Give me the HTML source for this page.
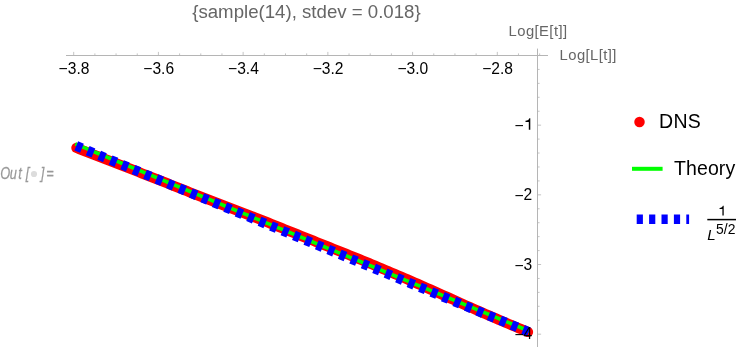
<!DOCTYPE html>
<html><head><meta charset="utf-8"><title>plot</title>
<style>
html,body{margin:0;padding:0;background:#fff;}
body{width:747px;height:349px;overflow:hidden;position:relative;font-family:"Liberation Sans",sans-serif;}
svg{position:absolute;left:0;top:0;will-change:transform;}
text{font-family:"Liberation Sans",sans-serif;}
.tk{font-size:15.6px;fill:#000;}
.al{font-size:14.8px;fill:#666;letter-spacing:0.42px;}
.ttl{font-size:18.65px;fill:#666;}
.lg{font-size:19.5px;fill:#000;}
.fr{font-size:13.3px;fill:#000;}
.out{font-size:16.4px;fill:#999;stroke:#999;stroke-width:0.25px;font-style:italic;}
</style></head><body>
<svg width="747" height="349" viewBox="0 0 747 349">
<rect width="747" height="349" fill="#fff"/>
<text x="192.2" y="17.6" class="ttl">{sample(14), stdev = 0.018}</text>
<text x="508.6" y="35.9" class="al">Log[E[t]]</text>
<text x="559.6" y="60.2" class="al">Log[L[t]]</text>
<line x1="66" y1="55.5" x2="548" y2="55.5" stroke="#b5b5b5" stroke-width="1"/>
<line x1="537.5" y1="48.6" x2="537.5" y2="347" stroke="#b5b5b5" stroke-width="1"/>
<line x1="73.70" y1="55.5" x2="73.70" y2="51.90" stroke="#b5b5b5" stroke-width="0.8"/>
<line x1="94.88" y1="55.5" x2="94.88" y2="53.40" stroke="#b5b5b5" stroke-width="0.8"/>
<line x1="116.06" y1="55.5" x2="116.06" y2="53.40" stroke="#b5b5b5" stroke-width="0.8"/>
<line x1="137.24" y1="55.5" x2="137.24" y2="53.40" stroke="#b5b5b5" stroke-width="0.8"/>
<line x1="158.42" y1="55.5" x2="158.42" y2="51.90" stroke="#b5b5b5" stroke-width="0.8"/>
<line x1="179.60" y1="55.5" x2="179.60" y2="53.40" stroke="#b5b5b5" stroke-width="0.8"/>
<line x1="200.78" y1="55.5" x2="200.78" y2="53.40" stroke="#b5b5b5" stroke-width="0.8"/>
<line x1="221.96" y1="55.5" x2="221.96" y2="53.40" stroke="#b5b5b5" stroke-width="0.8"/>
<line x1="243.14" y1="55.5" x2="243.14" y2="51.90" stroke="#b5b5b5" stroke-width="0.8"/>
<line x1="264.32" y1="55.5" x2="264.32" y2="53.40" stroke="#b5b5b5" stroke-width="0.8"/>
<line x1="285.50" y1="55.5" x2="285.50" y2="53.40" stroke="#b5b5b5" stroke-width="0.8"/>
<line x1="306.68" y1="55.5" x2="306.68" y2="53.40" stroke="#b5b5b5" stroke-width="0.8"/>
<line x1="327.86" y1="55.5" x2="327.86" y2="51.90" stroke="#b5b5b5" stroke-width="0.8"/>
<line x1="349.04" y1="55.5" x2="349.04" y2="53.40" stroke="#b5b5b5" stroke-width="0.8"/>
<line x1="370.22" y1="55.5" x2="370.22" y2="53.40" stroke="#b5b5b5" stroke-width="0.8"/>
<line x1="391.40" y1="55.5" x2="391.40" y2="53.40" stroke="#b5b5b5" stroke-width="0.8"/>
<line x1="412.58" y1="55.5" x2="412.58" y2="51.90" stroke="#b5b5b5" stroke-width="0.8"/>
<line x1="433.76" y1="55.5" x2="433.76" y2="53.40" stroke="#b5b5b5" stroke-width="0.8"/>
<line x1="454.94" y1="55.5" x2="454.94" y2="53.40" stroke="#b5b5b5" stroke-width="0.8"/>
<line x1="476.12" y1="55.5" x2="476.12" y2="53.40" stroke="#b5b5b5" stroke-width="0.8"/>
<line x1="497.30" y1="55.5" x2="497.30" y2="51.90" stroke="#b5b5b5" stroke-width="0.8"/>
<line x1="518.48" y1="55.5" x2="518.48" y2="53.40" stroke="#b5b5b5" stroke-width="0.8"/>
<line x1="539.66" y1="55.5" x2="539.66" y2="53.40" stroke="#b5b5b5" stroke-width="0.8"/>
<line x1="537.5" y1="69.43" x2="539.60" y2="69.43" stroke="#b5b5b5" stroke-width="0.8"/>
<line x1="537.5" y1="83.37" x2="539.60" y2="83.37" stroke="#b5b5b5" stroke-width="0.8"/>
<line x1="537.5" y1="97.30" x2="539.60" y2="97.30" stroke="#b5b5b5" stroke-width="0.8"/>
<line x1="537.5" y1="111.24" x2="539.60" y2="111.24" stroke="#b5b5b5" stroke-width="0.8"/>
<line x1="537.5" y1="125.17" x2="541.10" y2="125.17" stroke="#b5b5b5" stroke-width="0.8"/>
<line x1="537.5" y1="139.10" x2="539.60" y2="139.10" stroke="#b5b5b5" stroke-width="0.8"/>
<line x1="537.5" y1="153.04" x2="539.60" y2="153.04" stroke="#b5b5b5" stroke-width="0.8"/>
<line x1="537.5" y1="166.97" x2="539.60" y2="166.97" stroke="#b5b5b5" stroke-width="0.8"/>
<line x1="537.5" y1="180.91" x2="539.60" y2="180.91" stroke="#b5b5b5" stroke-width="0.8"/>
<line x1="537.5" y1="194.84" x2="541.10" y2="194.84" stroke="#b5b5b5" stroke-width="0.8"/>
<line x1="537.5" y1="208.77" x2="539.60" y2="208.77" stroke="#b5b5b5" stroke-width="0.8"/>
<line x1="537.5" y1="222.71" x2="539.60" y2="222.71" stroke="#b5b5b5" stroke-width="0.8"/>
<line x1="537.5" y1="236.64" x2="539.60" y2="236.64" stroke="#b5b5b5" stroke-width="0.8"/>
<line x1="537.5" y1="250.58" x2="539.60" y2="250.58" stroke="#b5b5b5" stroke-width="0.8"/>
<line x1="537.5" y1="264.51" x2="541.10" y2="264.51" stroke="#b5b5b5" stroke-width="0.8"/>
<line x1="537.5" y1="278.44" x2="539.60" y2="278.44" stroke="#b5b5b5" stroke-width="0.8"/>
<line x1="537.5" y1="292.38" x2="539.60" y2="292.38" stroke="#b5b5b5" stroke-width="0.8"/>
<line x1="537.5" y1="306.31" x2="539.60" y2="306.31" stroke="#b5b5b5" stroke-width="0.8"/>
<line x1="537.5" y1="320.25" x2="539.60" y2="320.25" stroke="#b5b5b5" stroke-width="0.8"/>
<line x1="537.5" y1="334.18" x2="541.10" y2="334.18" stroke="#b5b5b5" stroke-width="0.8"/>
<text x="74.00" y="73.6" text-anchor="middle" class="tk"><tspan dy="0.4">−</tspan><tspan dy="-0.4">3.8</tspan></text>
<text x="158.72" y="73.6" text-anchor="middle" class="tk"><tspan dy="0.4">−</tspan><tspan dy="-0.4">3.6</tspan></text>
<text x="243.44" y="73.6" text-anchor="middle" class="tk"><tspan dy="0.4">−</tspan><tspan dy="-0.4">3.4</tspan></text>
<text x="328.16" y="73.6" text-anchor="middle" class="tk"><tspan dy="0.4">−</tspan><tspan dy="-0.4">3.2</tspan></text>
<text x="412.88" y="73.6" text-anchor="middle" class="tk"><tspan dy="0.4">−</tspan><tspan dy="-0.4">3.0</tspan></text>
<text x="497.60" y="73.6" text-anchor="middle" class="tk"><tspan dy="0.4">−</tspan><tspan dy="-0.4">2.8</tspan></text>

<g transform="scale(0.78,1)"><text y="178.6" class="out" x="0.4 12.6 23.4 33.0 52.3 59.4">Out[]=</text></g>
<circle cx="34" cy="174" r="3.1" fill="#dcdcdc"/>
<path d="M76.40,147.86 L79.65,149.14 L82.90,150.42 L86.15,151.68 L89.40,152.94 L92.64,154.18 L95.89,155.42 L99.14,156.67 L102.39,157.92 L105.64,159.18 L108.89,160.43 L112.14,161.69 L115.39,162.96 L118.64,164.22 L121.88,165.49 L125.13,166.77 L128.38,168.04 L131.63,169.31 L134.88,170.58 L138.13,171.86 L141.38,173.13 L144.63,174.40 L147.88,175.68 L151.13,176.96 L154.37,178.24 L157.62,179.52 L160.87,180.80 L164.12,182.09 L167.37,183.37 L170.62,184.66 L173.87,185.95 L177.12,187.24 L180.37,188.53 L183.61,189.82 L186.86,191.11 L190.11,192.39 L193.36,193.68 L196.61,194.97 L199.86,196.26 L203.11,197.54 L206.36,198.81 L209.61,200.07 L212.85,201.33 L216.10,202.59 L219.35,203.84 L222.60,205.08 L225.85,206.31 L229.10,207.54 L232.35,208.78 L235.60,210.01 L238.85,211.24 L242.09,212.47 L245.34,213.71 L248.59,214.95 L251.84,216.20 L255.09,217.46 L258.34,218.73 L261.59,220.01 L264.84,221.30 L268.09,222.59 L271.34,223.89 L274.58,225.20 L277.83,226.51 L281.08,227.82 L284.33,229.13 L287.58,230.43 L290.83,231.74 L294.08,233.05 L297.33,234.35 L300.58,235.65 L303.82,236.96 L307.07,238.26 L310.32,239.56 L313.57,240.86 L316.82,242.15 L320.07,243.45 L323.32,244.74 L326.57,246.04 L329.82,247.34 L333.06,248.63 L336.31,249.93 L339.56,251.23 L342.81,252.52 L346.06,253.82 L349.31,255.12 L352.56,256.43 L355.81,257.74 L359.06,259.06 L362.31,260.39 L365.55,261.72 L368.80,263.06 L372.05,264.41 L375.30,265.76 L378.55,267.11 L381.80,268.47 L385.05,269.83 L388.30,271.20 L391.55,272.58 L394.79,273.96 L398.04,275.35 L401.29,276.74 L404.54,278.14 L407.79,279.54 L411.04,280.95 L414.29,282.36 L417.54,283.78 L420.79,285.20 L424.03,286.62 L427.28,288.05 L430.53,289.49 L433.78,290.94 L437.03,292.39 L440.28,293.84 L443.53,295.31 L446.78,296.77 L450.03,298.24 L453.27,299.70 L456.52,301.17 L459.77,302.64 L463.02,304.10 L466.27,305.55 L469.52,307.00 L472.77,308.43 L476.02,309.86 L479.27,311.29 L482.52,312.70 L485.76,314.11 L489.01,315.51 L492.26,316.90 L495.51,318.30 L498.76,319.69 L502.01,321.08 L505.26,322.46 L508.51,323.84 L511.76,325.21 L515.00,326.58 L518.25,327.94 L521.50,329.30 L524.75,330.65 L528.00,331.99" fill="none" stroke="#ff0000" stroke-width="10.2" stroke-linecap="round" stroke-linejoin="round"/>
<path d="M75.25,143.94 L81.00,146.32 L86.74,148.71 L92.49,151.10 L98.24,153.48 L103.99,155.87 L109.73,158.25 L115.48,160.63 L121.23,163.01 L126.98,165.39 L132.72,167.77 L138.47,170.14 L144.22,172.52 L149.97,174.90 L155.71,177.27 L161.46,179.65 L167.21,182.02 L172.96,184.40 L178.70,186.77 L184.45,189.14 L190.20,191.51 L195.95,193.88 L201.69,196.25 L207.44,198.63 L213.19,201.00 L218.94,203.37 L224.68,205.73 L230.43,208.10 L236.18,210.47 L241.93,212.84 L247.67,215.21 L253.42,217.58 L259.17,219.94 L264.92,222.31 L270.66,224.68 L276.41,227.05 L282.16,229.41 L287.91,231.78 L293.65,234.15 L299.40,236.51 L305.15,238.88 L310.90,241.24 L316.64,243.61 L322.39,245.97 L328.14,248.34 L333.89,250.71 L339.63,253.07 L345.38,255.44 L351.13,257.80 L356.88,260.17 L362.62,262.53 L368.37,264.90 L374.12,267.26 L379.87,269.63 L385.61,271.99 L391.36,274.35 L397.11,276.72 L402.86,279.08 L408.60,281.45 L414.35,283.81 L420.10,286.18 L425.85,288.54 L431.59,290.90 L437.34,293.27 L443.09,295.63 L448.84,298.00 L454.58,300.36 L460.33,302.72 L466.08,305.09 L471.83,307.45 L477.57,309.82 L483.32,312.18 L489.07,314.54 L494.82,316.91 L500.56,319.27 L506.31,321.63 L512.06,324.00 L517.81,326.36 L523.55,328.73 L529.30,331.09" fill="none" stroke="#00ff00" stroke-width="3.6"/>
<line x1="76.25" y1="145.90" x2="529.30" y2="332.19" stroke="#0000ff" stroke-width="9.8" stroke-dasharray="6.2 6.187"/>
<text x="523.7" y="131.47" text-anchor="end" class="tk">−</text>
<path fill="#000" d="M530.30,129.75 L530.30,118.30 L529.35,118.30 C529.00,119.60 527.60,120.60 525.50,120.80 L525.50,122.05 L528.80,122.05 L528.80,129.75 Z"/>
<text x="532.3" y="200.14" text-anchor="end" class="tk"><tspan dy="1">−</tspan><tspan dy="-1">2</tspan></text>
<text x="532.3" y="269.81" text-anchor="end" class="tk"><tspan dy="1">−</tspan><tspan dy="-1">3</tspan></text>
<text x="532.3" y="339.48" text-anchor="end" class="tk"><tspan dy="1">−</tspan><tspan dy="-1">4</tspan></text>

<circle cx="639.5" cy="122" r="5.25" fill="#ff0000"/>
<text x="659" y="128" class="lg" letter-spacing="0.35">DNS</text>
<line x1="632" y1="168.8" x2="662.6" y2="168.8" stroke="#00ff00" stroke-width="4"/>
<text x="674" y="175.2" class="lg" letter-spacing="0.1">Theory</text>
<line x1="636.7" y1="219.3" x2="689.1" y2="219.3" stroke="#0000ff" stroke-width="9.4" stroke-dasharray="6.2 6.2"/>
<path fill="#000" d="M723.70,215.45 L723.70,205.80 L722.88,205.80 C722.58,206.92 721.38,207.78 719.57,207.95 L719.57,209.03 L722.41,209.03 L722.41,215.45 Z"/>
<line x1="707.3" y1="219.6" x2="736" y2="219.6" stroke="#000" stroke-width="1.5"/>
<text x="707.2" y="239.9" class="fr" style="font-size:15.2px;font-style:italic">L</text>
<text x="716.1" y="233.6" class="fr" style="font-size:13.9px">5/2</text>
</svg>
</body></html>
